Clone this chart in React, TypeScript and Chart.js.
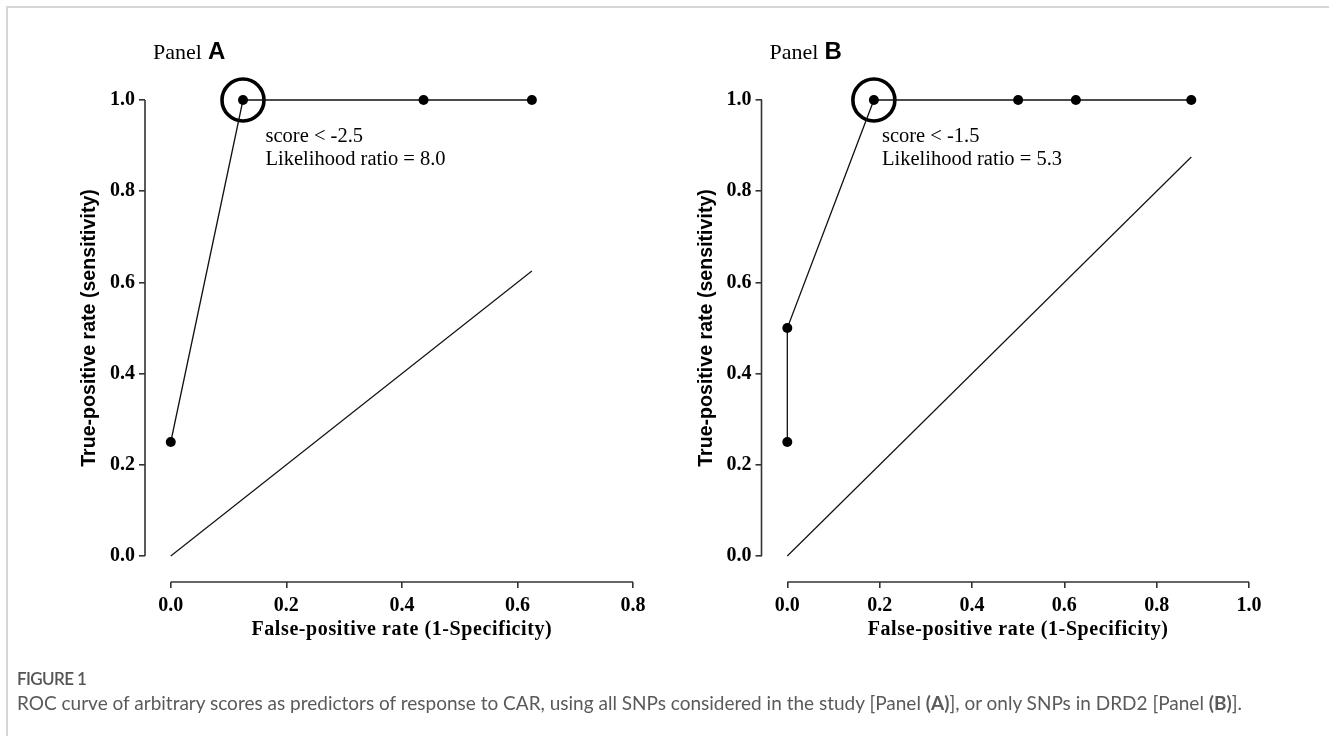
import React, { useEffect, useRef } from "react";
import { Chart, registerables } from "chart.js";

Chart.register(...registerables);

// ---------- data ----------
const yTickValues = [0, 0.2, 0.4, 0.6, 0.8, 1.0];
const panelAXTicks = [0, 0.2, 0.4, 0.6, 0.8];
const panelBXTicks = [0, 0.2, 0.4, 0.6, 0.8, 1.0];

const panelAFpr = [0, 0.125, 0.4375, 0.625];
const panelATpr = [0.25, 1.0, 1.0, 1.0];
const panelACutFpr = [0.125];
const panelACutTpr = [1.0];
const panelADiagonal = [0, 0.625];
const panelAAnnotation = ["score < -2.5", "Likelihood ratio = 8.0"];

const panelBFpr = [0, 0, 0.1875, 0.5, 0.625, 0.875];
const panelBTpr = [0.25, 0.5, 1.0, 1.0, 1.0, 1.0];
const panelBCutFpr = [0.1875];
const panelBCutTpr = [1.0];
const panelBDiagonal = [0, 0.875];
const panelBAnnotation = ["score < -1.5", "Likelihood ratio = 5.3"];

const xTitle = "False-positive rate (1-Specificity)";
const yTitle = "True-positive rate (sensitivity)";
const captionHead = "FIGURE 1";
const captionText =
  "ROC curve of arbitrary scores as predictors of response to CAR, using all SNPs considered in the study [Panel ";
const captionMid = "], or only SNPs in DRD2 [Panel ";

type PanelDef = {
  letter: string;
  fpr: number[];
  tpr: number[];
  cutFpr: number[];
  cutTpr: number[];
  diagonal: number[];
  annotation: string[];
  annotX: number;
  annotY: number[];
  xTicks: number[];
  xMin: number;
  xMax: number;
  yMin: number;
  left: number;
  width: number;
  yAxisWidth: number;
  padRight: number;
};

const SERIF = "'Liberation Serif', 'Times New Roman', serif";
const SANS = "'Liberation Sans', Arial, sans-serif";
const CANVAS_H = 664;

const panels: PanelDef[] = [
  {
    letter: "A",
    fpr: panelAFpr,
    tpr: panelATpr,
    cutFpr: panelACutFpr,
    cutTpr: panelACutTpr,
    diagonal: panelADiagonal,
    annotation: panelAAnnotation,
    annotX: 0.164,
    annotY: [0.92, 0.87],
    xTicks: panelAXTicks,
    xMin: -0.0446,
    xMax: 0.8,
    yMin: -0.057,
    left: 0,
    width: 664,
    yAxisWidth: 145,
    padRight: 31,
  },
  {
    letter: "B",
    fpr: panelBFpr,
    tpr: panelBTpr,
    cutFpr: panelBCutFpr,
    cutTpr: panelBCutTpr,
    diagonal: panelBDiagonal,
    annotation: panelBAnnotation,
    annotX: 0.205,
    annotY: [0.92, 0.87],
    xTicks: panelBXTicks,
    xMin: -0.0559,
    xMax: 1.0,
    yMin: -0.057,
    left: 664,
    width: 665,
    yAxisWidth: 97.5,
    padRight: 80,
  },
];

function textPlugin(p: PanelDef) {
  return {
    id: "panelText" + p.letter,
    afterDraw(chart: any) {
      const { ctx, chartArea, scales } = chart;
      const xs = scales.x;
      const ys = scales.y;
      ctx.save();
      ctx.fillStyle = "#000";
      // panel title
      ctx.textBaseline = "alphabetic";
      ctx.textAlign = "left";
      ctx.font = `22px ${SERIF}`;
      const px = chartArea.left + 8;
      ctx.fillText("Panel", px, 59);
      const w = ctx.measureText("Panel").width;
      ctx.font = `bold 24px ${SANS}`;
      ctx.fillText(p.letter, px + w + 6, 59);
      // annotation
      ctx.font = `20.5px ${SERIF}`;
      ctx.textBaseline = "middle";
      p.annotation.forEach((t, i) => {
        ctx.fillText(t, xs.getPixelForValue(p.annotX), ys.getPixelForValue(p.annotY[i]));
      });
      // x title
      ctx.font = `bold 20px ${SERIF}`;
      ctx.textAlign = "center";
      try {
        (ctx as any).letterSpacing = "0.6px";
      } catch (e) {}
      const x0 = xs.getPixelForValue(0);
      const x1 = xs.getPixelForValue(p.xMax);
      ctx.fillText(xTitle, (x0 + x1) / 2, 630);
      try {
        (ctx as any).letterSpacing = "0px";
      } catch (e) {}
      // y title
      const y0 = ys.getPixelForValue(0);
      const y1 = ys.getPixelForValue(1);
      ctx.translate(chartArea.left - 55, (y0 + y1) / 2);
      ctx.rotate(-Math.PI / 2);
      ctx.font = `bold 19.6px ${SANS}`;
      ctx.fillText(yTitle, 0, 0);
      ctx.restore();
    },
  };
}

function Panel({ p }: { p: PanelDef }) {
  const ref = useRef<HTMLCanvasElement>(null);
  useEffect(() => {
    if (!ref.current) return;
    const axisColor = "#333";
    const tickFont = { family: SERIF, size: 20, weight: "bold" as const };
    const chart = new Chart(ref.current, {
      type: "scatter",
      data: {
        datasets: [
          {
            label: "ROC",
            data: p.fpr.map((x, i) => ({ x, y: p.tpr[i] })),
            showLine: true,
            borderColor: "#111",
            borderWidth: 1.3,
            pointRadius: 5,
            pointBackgroundColor: "#000",
            pointBorderWidth: 0,
            clip: false,
          } as any,
          {
            label: "Cut-off",
            data: p.cutFpr.map((x, i) => ({ x, y: p.cutTpr[i] })),
            showLine: false,
            pointRadius: 21,
            pointBorderWidth: 3.6,
            pointBorderColor: "#000",
            pointBackgroundColor: "rgba(0,0,0,0)",
            clip: false,
          } as any,
          {
            label: "Reference",
            data: p.diagonal.map((v) => ({ x: v, y: v })),
            showLine: true,
            borderColor: "#111",
            borderWidth: 1.2,
            pointRadius: 0,
            clip: false,
          } as any,
          {
            label: "x-axis",
            data: [
              { x: 0, y: p.yMin },
              { x: p.xMax, y: p.yMin },
            ],
            showLine: true,
            borderColor: axisColor,
            borderWidth: 1.6,
            pointRadius: 0,
            clip: false,
          } as any,
          {
            label: "y-axis",
            data: [
              { x: p.xMin, y: 0 },
              { x: p.xMin, y: 1 },
            ],
            showLine: true,
            borderColor: axisColor,
            borderWidth: 1.6,
            pointRadius: 0,
            clip: false,
          } as any,
        ],
      },
      options: {
        animation: false,
        responsive: false,
        events: [],
        layout: { padding: { top: 100, right: p.padRight, left: 0, bottom: 0 } },
        plugins: { legend: { display: false }, tooltip: { enabled: false } },
        scales: {
          x: {
            type: "linear",
            position: "bottom",
            min: p.xMin,
            max: p.xMax,
            afterBuildTicks: (s: any) => {
              s.ticks = p.xTicks.map((v) => ({ value: v }));
            },
            afterFit: (s: any) => {
              s.height = CANVAS_H - 582;
            },
            border: { display: false },
            grid: {
              display: true,
              drawOnChartArea: false,
              drawTicks: true,
              tickLength: 6,
              color: axisColor,
              lineWidth: 1.6,
            },
            ticks: {
              autoSkip: false,
              maxRotation: 0,
              padding: 6,
              color: "#000",
              font: tickFont,
              callback: (v: any) => Number(v).toFixed(1),
            },
          },
          y: {
            type: "linear",
            position: "left",
            min: p.yMin,
            max: 1,
            afterBuildTicks: (s: any) => {
              s.ticks = yTickValues.map((v) => ({ value: v }));
            },
            afterFit: (s: any) => {
              s.width = p.yAxisWidth;
            },
            border: { display: false },
            grid: {
              display: true,
              drawOnChartArea: false,
              drawTicks: true,
              tickLength: 6,
              color: axisColor,
              lineWidth: 1.6,
            },
            ticks: {
              autoSkip: false,
              padding: 4,
              color: "#000",
              font: tickFont,
              callback: (v: any) => Number(v).toFixed(1),
            },
          },
        },
      } as any,
      plugins: [textPlugin(p)],
    });
    return () => chart.destroy();
  }, [p]);
  return (
    <canvas
      ref={ref}
      width={p.width}
      height={CANVAS_H}
      style={{ position: "absolute", left: p.left, top: 0, width: p.width, height: CANVAS_H, display: "block" }}
    />
  );
}

export default function App() {
  return (
    <div
      style={{
        position: "absolute",
        left: 0,
        top: 0,
        width: 1329,
        height: 736,
        overflow: "hidden",
        background: "#fff",
      }}
    >
      {panels.map((p) => (
        <Panel key={p.letter} p={p} />
      ))}
      <div
        style={{
          position: "absolute",
          left: 6,
          top: 6,
          width: 1400,
          height: 800,
          borderLeft: "2px solid #d6d6d6",
          borderTop: "2px solid #d6d6d6",
          pointerEvents: "none",
        }}
      />
      <div
        style={{
          position: "absolute",
          left: 17,
          top: 668,
          fontFamily: "Lato, 'Noto Sans', sans-serif",
          fontSize: 17,
          fontWeight: 600,
          color: "#555",
          whiteSpace: "nowrap",
          lineHeight: "22px",
          letterSpacing: "-0.6px",
        }}
      >
        {captionHead}
      </div>
      <div
        style={{
          position: "absolute",
          left: 17,
          top: 691,
          fontFamily: "Lato, 'Noto Sans', sans-serif",
          fontSize: 19,
          color: "#5a5a5a",
          whiteSpace: "nowrap",
          lineHeight: "24px",
        }}
      >
        {captionText}
        <b>(A)</b>
        {captionMid}
        <b>(B)</b>
        {"]."}
      </div>
    </div>
  );
}
